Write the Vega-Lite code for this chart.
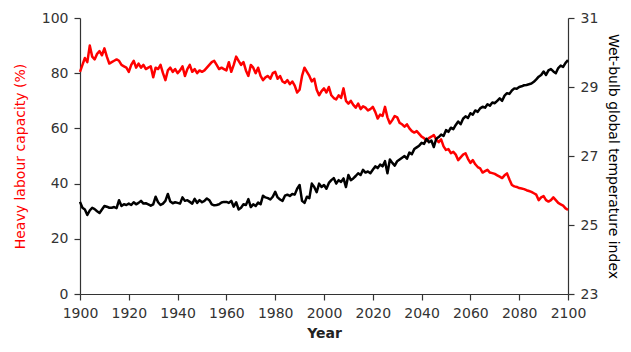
{
  "$schema": "https://vega.github.io/schema/vega-lite/v6.json",
  "width": 488,
  "height": 276,
  "autosize": "none",
  "padding": {"left": 80, "top": 18, "right": 63, "bottom": 58},
  "background": "white",
  "config": {
    "view": {"stroke": null},
    "axis": {"grid": false, "labelFont": "DejaVu Sans", "titleFont": "DejaVu Sans", "labelFontSize": 14, "titleFontSize": 14, "labelColor": "#333", "domainColor": "#333", "tickColor": "#333", "tickSize": 6, "domainWidth": 1.2, "tickWidth": 1.2, "labelPadding": 6, "labelOverlap": false, "labelFlush": false}
  },
  "data": {"values": [
{"year":1900,"labour":80.5,"wbgt":25.67},{"year":1901,"labour":83,"wbgt":25.5},{"year":1902,"labour":85.5,"wbgt":25.45},{"year":1903,"labour":84,"wbgt":25.29},{"year":1904,"labour":90,"wbgt":25.42},{"year":1905,"labour":86,"wbgt":25.5},{"year":1906,"labour":85,"wbgt":25.46},{"year":1907,"labour":87,"wbgt":25.4},{"year":1908,"labour":88,"wbgt":25.35},{"year":1909,"labour":86.5,"wbgt":25.45},
{"year":1910,"labour":89,"wbgt":25.55},{"year":1911,"labour":86,"wbgt":25.53},{"year":1912,"labour":83.5,"wbgt":25.5},{"year":1913,"labour":84,"wbgt":25.5},{"year":1914,"labour":84.5,"wbgt":25.52},{"year":1915,"labour":85,"wbgt":25.49},{"year":1916,"labour":84.5,"wbgt":25.72},{"year":1917,"labour":83,"wbgt":25.55},{"year":1918,"labour":82.5,"wbgt":25.6},{"year":1919,"labour":82,"wbgt":25.58},
{"year":1920,"labour":80.5,"wbgt":25.62},{"year":1921,"labour":83,"wbgt":25.58},{"year":1922,"labour":84.5,"wbgt":25.66},{"year":1923,"labour":82,"wbgt":25.6},{"year":1924,"labour":83.5,"wbgt":25.64},{"year":1925,"labour":82,"wbgt":25.7},{"year":1926,"labour":83,"wbgt":25.62},{"year":1927,"labour":81.5,"wbgt":25.63},{"year":1928,"labour":82,"wbgt":25.6},{"year":1929,"labour":82.5,"wbgt":25.56},
{"year":1930,"labour":78.5,"wbgt":25.6},{"year":1931,"labour":82,"wbgt":25.82},{"year":1932,"labour":81.5,"wbgt":25.66},{"year":1933,"labour":83,"wbgt":25.58},{"year":1934,"labour":80,"wbgt":25.62},{"year":1935,"labour":77.5,"wbgt":25.7},{"year":1936,"labour":81,"wbgt":25.9},{"year":1937,"labour":82,"wbgt":25.68},{"year":1938,"labour":80.5,"wbgt":25.63},{"year":1939,"labour":81.5,"wbgt":25.66},
{"year":1940,"labour":80,"wbgt":25.64},{"year":1941,"labour":81,"wbgt":25.62},{"year":1942,"labour":82.5,"wbgt":25.8},{"year":1943,"labour":79,"wbgt":25.7},{"year":1944,"labour":81.5,"wbgt":25.72},{"year":1945,"labour":83,"wbgt":25.67},{"year":1946,"labour":80.5,"wbgt":25.62},{"year":1947,"labour":81.5,"wbgt":25.76},{"year":1948,"labour":80,"wbgt":25.64},{"year":1949,"labour":81,"wbgt":25.72},
{"year":1950,"labour":80.5,"wbgt":25.66},{"year":1951,"labour":81,"wbgt":25.7},{"year":1952,"labour":82,"wbgt":25.77},{"year":1953,"labour":83,"wbgt":25.72},{"year":1954,"labour":84,"wbgt":25.6},{"year":1955,"labour":84.5,"wbgt":25.57},{"year":1956,"labour":83,"wbgt":25.58},{"year":1957,"labour":81.5,"wbgt":25.6},{"year":1958,"labour":82,"wbgt":25.65},{"year":1959,"labour":81.5,"wbgt":25.67},
{"year":1960,"labour":81,"wbgt":25.67},{"year":1961,"labour":84,"wbgt":25.64},{"year":1962,"labour":80.5,"wbgt":25.7},{"year":1963,"labour":83,"wbgt":25.53},{"year":1964,"labour":86,"wbgt":25.66},{"year":1965,"labour":84.5,"wbgt":25.45},{"year":1966,"labour":83,"wbgt":25.5},{"year":1967,"labour":84,"wbgt":25.6},{"year":1968,"labour":81,"wbgt":25.58},{"year":1969,"labour":79,"wbgt":25.75},
{"year":1970,"labour":83,"wbgt":25.52},{"year":1971,"labour":82,"wbgt":25.6},{"year":1972,"labour":80,"wbgt":25.55},{"year":1973,"labour":82,"wbgt":25.65},{"year":1974,"labour":79,"wbgt":25.6},{"year":1975,"labour":77.5,"wbgt":25.85},{"year":1976,"labour":78.5,"wbgt":25.8},{"year":1977,"labour":79,"wbgt":25.78},{"year":1978,"labour":78,"wbgt":25.74},{"year":1979,"labour":80,"wbgt":25.82},
{"year":1980,"labour":80.5,"wbgt":25.96},{"year":1981,"labour":78,"wbgt":25.8},{"year":1982,"labour":79,"wbgt":25.74},{"year":1983,"labour":77,"wbgt":25.7},{"year":1984,"labour":76.5,"wbgt":25.85},{"year":1985,"labour":77.5,"wbgt":25.88},{"year":1986,"labour":76,"wbgt":25.84},{"year":1987,"labour":77,"wbgt":25.9},{"year":1988,"labour":75.5,"wbgt":25.88},{"year":1989,"labour":73,"wbgt":26.05},
{"year":1990,"labour":74,"wbgt":26.16},{"year":1991,"labour":79,"wbgt":25.7},{"year":1992,"labour":82,"wbgt":25.64},{"year":1993,"labour":80.5,"wbgt":25.82},{"year":1994,"labour":79,"wbgt":25.78},{"year":1995,"labour":77,"wbgt":26.2},{"year":1996,"labour":78,"wbgt":26.1},{"year":1997,"labour":74,"wbgt":25.95},{"year":1998,"labour":72,"wbgt":26.2},{"year":1999,"labour":73.5,"wbgt":26.1},
{"year":2000,"labour":74.5,"wbgt":26.16},{"year":2001,"labour":73,"wbgt":26.05},{"year":2002,"labour":75,"wbgt":26.22},{"year":2003,"labour":72,"wbgt":26.3},{"year":2004,"labour":71,"wbgt":26.36},{"year":2005,"labour":70.5,"wbgt":26.2},{"year":2006,"labour":72,"wbgt":26.3},{"year":2007,"labour":71,"wbgt":26.25},{"year":2008,"labour":74.5,"wbgt":26.35},{"year":2009,"labour":70,"wbgt":26.1},
{"year":2010,"labour":69,"wbgt":26.45},{"year":2011,"labour":70,"wbgt":26.3},{"year":2012,"labour":68.5,"wbgt":26.35},{"year":2013,"labour":67.5,"wbgt":26.42},{"year":2014,"labour":69,"wbgt":26.5},{"year":2015,"labour":67,"wbgt":26.45},{"year":2016,"labour":68,"wbgt":26.6},{"year":2017,"labour":67.5,"wbgt":26.52},{"year":2018,"labour":66.5,"wbgt":26.55},{"year":2019,"labour":67,"wbgt":26.5},
{"year":2020,"labour":67.8,"wbgt":26.6},{"year":2021,"labour":66,"wbgt":26.7},{"year":2022,"labour":63.6,"wbgt":26.65},{"year":2023,"labour":65,"wbgt":26.75},{"year":2024,"labour":64.5,"wbgt":26.7},{"year":2025,"labour":67.8,"wbgt":26.85},{"year":2026,"labour":64,"wbgt":26.5},{"year":2027,"labour":61.8,"wbgt":26.9},{"year":2028,"labour":63,"wbgt":26.8},{"year":2029,"labour":64.5,"wbgt":26.72},
{"year":2030,"labour":64,"wbgt":26.85},{"year":2031,"labour":62,"wbgt":26.9},{"year":2032,"labour":61.5,"wbgt":26.95},{"year":2033,"labour":60.6,"wbgt":27.0},{"year":2034,"labour":61.5,"wbgt":26.92},{"year":2035,"labour":60,"wbgt":27.1},{"year":2036,"labour":59,"wbgt":27.05},{"year":2037,"labour":58.5,"wbgt":27.2},{"year":2038,"labour":59,"wbgt":27.25},{"year":2039,"labour":58,"wbgt":27.3},
{"year":2040,"labour":57,"wbgt":27.38},{"year":2041,"labour":56.5,"wbgt":27.35},{"year":2042,"labour":55.5,"wbgt":27.5},{"year":2043,"labour":56.5,"wbgt":27.4},{"year":2044,"labour":57,"wbgt":27.45},{"year":2045,"labour":57.6,"wbgt":27.26},{"year":2046,"labour":56,"wbgt":27.5},{"year":2047,"labour":55,"wbgt":27.55},{"year":2048,"labour":56,"wbgt":27.62},{"year":2049,"labour":53.5,"wbgt":27.58},
{"year":2050,"labour":52.2,"wbgt":27.75},{"year":2051,"labour":52.5,"wbgt":27.7},{"year":2052,"labour":51,"wbgt":27.82},{"year":2053,"labour":51.5,"wbgt":27.78},{"year":2054,"labour":50.5,"wbgt":27.9},{"year":2055,"labour":48.5,"wbgt":28.0},{"year":2056,"labour":49.5,"wbgt":27.92},{"year":2057,"labour":50.5,"wbgt":28.08},{"year":2058,"labour":51,"wbgt":28.15},{"year":2059,"labour":49,"wbgt":28.1},
{"year":2060,"labour":47.5,"wbgt":28.24},{"year":2061,"labour":48.5,"wbgt":28.2},{"year":2062,"labour":47,"wbgt":28.32},{"year":2063,"labour":46,"wbgt":28.28},{"year":2064,"labour":45.5,"wbgt":28.38},{"year":2065,"labour":44,"wbgt":28.43},{"year":2066,"labour":44.5,"wbgt":28.4},{"year":2067,"labour":45,"wbgt":28.5},{"year":2068,"labour":44,"wbgt":28.46},{"year":2069,"labour":43.8,"wbgt":28.55},
{"year":2070,"labour":43.5,"wbgt":28.53},{"year":2071,"labour":43,"wbgt":28.6},{"year":2072,"labour":42.5,"wbgt":28.67},{"year":2073,"labour":42,"wbgt":28.6},{"year":2074,"labour":43,"wbgt":28.75},{"year":2075,"labour":43.7,"wbgt":28.82},{"year":2076,"labour":41.5,"wbgt":28.8},{"year":2077,"labour":39.5,"wbgt":28.9},{"year":2078,"labour":39,"wbgt":28.96},{"year":2079,"labour":38.8,"wbgt":28.95},
{"year":2080,"labour":38.4,"wbgt":29.0},{"year":2081,"labour":38.2,"wbgt":29.02},{"year":2082,"labour":38,"wbgt":29.05},{"year":2083,"labour":37.6,"wbgt":29.06},{"year":2084,"labour":37.3,"wbgt":29.08},{"year":2085,"labour":37,"wbgt":29.1},{"year":2086,"labour":36.5,"wbgt":29.15},{"year":2087,"labour":36,"wbgt":29.22},{"year":2088,"labour":34,"wbgt":29.3},{"year":2089,"labour":35,"wbgt":29.35},
{"year":2090,"labour":35.5,"wbgt":29.45},{"year":2091,"labour":34,"wbgt":29.35},{"year":2092,"labour":33.5,"wbgt":29.48},{"year":2093,"labour":34,"wbgt":29.52},{"year":2094,"labour":35,"wbgt":29.45},{"year":2095,"labour":34,"wbgt":29.4},{"year":2096,"labour":33,"wbgt":29.55},{"year":2097,"labour":32.5,"wbgt":29.62},{"year":2098,"labour":32,"wbgt":29.58},{"year":2099,"labour":31,"wbgt":29.7},{"year":2100,"labour":30.5,"wbgt":29.78}
  ]},
  "encoding": {
    "x": {"field": "year", "type": "quantitative", "scale": {"domain": [1900, 2100], "nice": false, "zero": false},
          "axis": {"values": [1900,1920,1940,1960,1980,2000,2020,2040,2060,2080,2100], "format": "d", "title": "Year", "titleFontWeight": "bold", "titleColor": "#222", "titlePadding": 6}}
  },
  "layer": [
    {"mark": {"type": "line", "color": "#ff0000", "strokeWidth": 2.5, "strokeJoin": "round"},
     "encoding": {"y": {"field": "labour", "type": "quantitative", "scale": {"domain": [0, 100], "nice": false},
        "axis": {"orient": "left", "values": [0,20,40,60,80,100], "title": "Heavy labour capacity (%)", "titleColor": "#ff0000", "titleFontWeight": "normal", "titlePadding": 14}}}},
    {"mark": {"type": "line", "color": "#000000", "strokeWidth": 2.5, "strokeJoin": "round"},
     "encoding": {"y": {"field": "wbgt", "type": "quantitative", "scale": {"domain": [23, 31], "nice": false, "zero": false},
        "axis": {"orient": "right", "values": [23,25,27,29,31], "title": "Wet-bulb global temperature index", "titleColor": "#000", "titleFontWeight": "normal", "titlePadding": 8}}}}
  ],
  "resolve": {"scale": {"y": "independent"}}
}
